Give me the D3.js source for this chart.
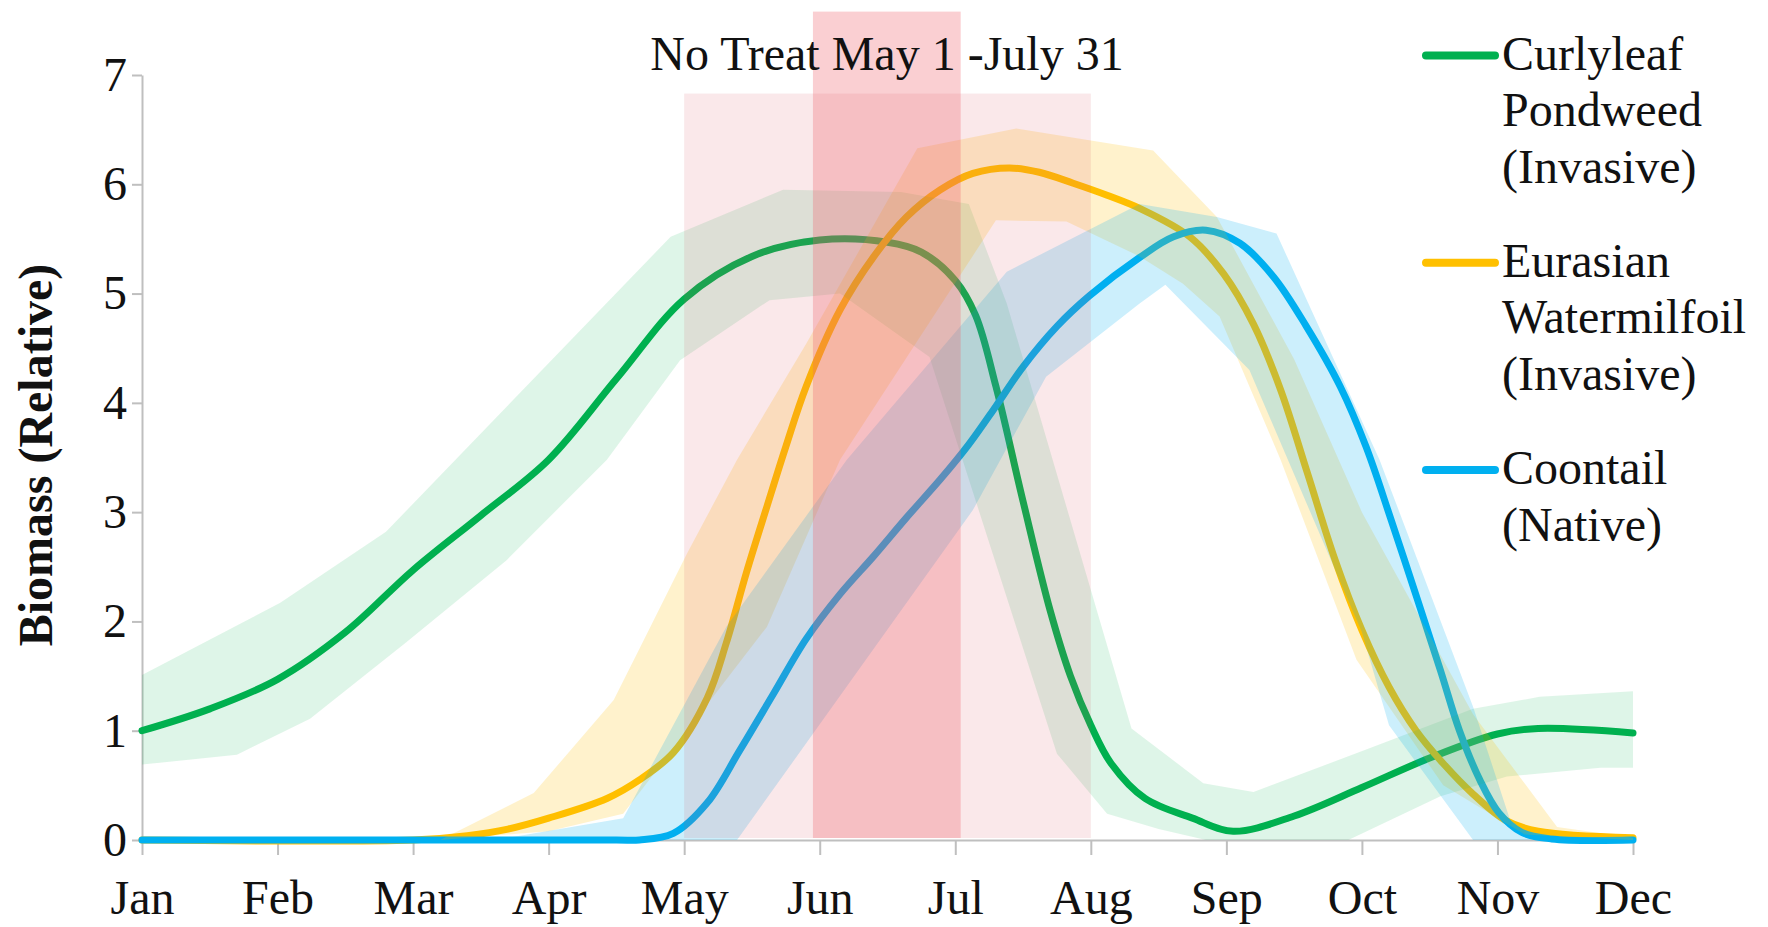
<!DOCTYPE html>
<html><head><meta charset="utf-8">
<script src="https://cdn.jsdelivr.net/npm/d3@7"></script>
<style>
html,body{margin:0;padding:0;background:#fff;}
svg{display:block;}
text{font-family:"Liberation Serif","Times New Roman",serif;}
</style></head><body>
<svg id="chart" width="1768" height="927"></svg>
<script>
// ---------- data (x = month index, 0 = Jan 1 ... 11 = Dec 1) ----------
const months = ["Jan","Feb","Mar","Apr","May","Jun","Jul","Aug","Sep","Oct","Nov","Dec"];
const yTicks = [0,1,2,3,4,5,6,7];

const curlyLine = [[0,1.0],[0.5,1.2],[1,1.47],[1.5,1.9],[2,2.47],[2.5,2.97],[3,3.48],[3.5,4.22],[4,4.95],[4.5,5.34],[5,5.49],[5.5,5.47],[5.75,5.38],[6,5.12],[6.15,4.8],[6.3,4.15],[6.5,3.1],[6.7,2.1],[6.85,1.5],[7,1.05],[7.15,0.7],[7.4,0.38],[7.75,0.2],[8.05,0.08],[8.5,0.22],[9,0.48],[9.5,0.75],[10,0.97],[10.3,1.02],[11,0.98]];
const milfoilLine = [[0,0],[2,0],[2.4,0.04],[2.7,0.1],[3,0.2],[3.43,0.38],[3.67,0.55],[3.92,0.8],[4.17,1.3],[4.31,1.8],[4.46,2.45],[4.61,3.05],[4.75,3.6],[4.9,4.15],[5.15,4.85],[5.4,5.34],[5.64,5.7],[5.89,5.95],[6.13,6.1],[6.4,6.15],[6.62,6.11],[6.87,6.01],[7.12,5.9],[7.36,5.78],[7.73,5.52],[7.98,5.18],[8.2,4.72],[8.4,4.12],[8.6,3.35],[8.8,2.57],[9.0,1.92],[9.2,1.4],[9.4,1.0],[9.6,0.7],[9.82,0.42],[10.06,0.18],[10.3,0.08],[11,0.02]];
const coontailLine = [[0,0],[3.5,0],[3.67,0],[3.92,0.06],[4.17,0.34],[4.41,0.82],[4.66,1.34],[4.9,1.84],[5.15,2.25],[5.4,2.6],[5.64,2.95],[5.89,3.3],[6.1,3.62],[6.3,3.97],[6.5,4.33],[6.75,4.7],[6.99,4.98],[7.36,5.33],[7.61,5.52],[7.85,5.58],[8.1,5.46],[8.35,5.15],[8.59,4.7],[8.84,4.15],[9.03,3.6],[9.21,2.95],[9.41,2.2],[9.58,1.55],[9.72,1.0],[9.87,0.55],[10.01,0.25],[10.18,0.07],[10.4,0.01],[11,0]];

const curlyBandUpper = [[0,1.51],[1.02,2.17],[1.8,2.82],[3.9,5.52],[4.73,5.95],[5.6,5.93],[6.1,5.82],[6.38,4.91],[7.3,1.02],[7.83,0.52],[8.2,0.44],[9.08,0.85],[9.82,1.2],[10.31,1.31],[11,1.36]];
const curlyBandLower = [[0,0.69],[0.7,0.78],[1.24,1.11],[1.95,1.81],[2.69,2.56],[3.43,3.48],[3.97,4.39],[4.63,4.94],[5.15,5.0],[5.81,4.42],[6.75,0.79],[7.12,0.24],[7.5,0.1],[7.85,0],[8.9,0],[9.58,0.4],[10.07,0.58],[10.76,0.66],[11,0.66]];
const milfoilBandUpper = [[0,0],[2.2,0],[2.89,0.43],[3.48,1.28],[3.67,1.75],[4.02,2.62],[4.39,3.48],[4.9,4.54],[5.72,6.33],[6.45,6.51],[7.46,6.31],[7.93,5.7],[8.5,4.4],[9.0,3.0],[9.82,1.15],[10.44,0.12],[11,0.02]];
const milfoilBandLower = [[0,0],[2.2,0],[3.0,0.08],[3.55,0.24],[4.61,1.95],[5.15,3.48],[6.3,5.67],[6.82,5.66],[7.36,5.34],[7.68,5.09],[7.95,4.79],[8.4,3.48],[8.96,1.65],[9.6,0.5],[10.2,0.05],[11,0]];
const coontailBandUpper = [[0,0],[2.6,0],[3.55,0.2],[4.31,1.95],[5.2,3.48],[6.38,5.2],[7.36,5.82],[7.93,5.7],[8.37,5.55],[9.13,3.48],[9.82,1.22],[10.11,0.12],[10.3,0],[11,0]];
const coontailBandLower = [[0,0],[4.39,0],[6.13,3.02],[6.67,4.24],[7.36,4.91],[7.55,5.08],[8.17,4.3],[9.0,1.9],[9.2,1.05],[9.82,0],[11,0]];

const seriesNames = [["Curlyleaf","Pondweed","(Invasive)"],["Eurasian","Watermilfoil","(Invasive)"],["Coontail","(Native)"]];
const seriesColors = ["#00b050","#ffc000","#00b0f0"];
const bandOpacity = [0.13,0.2,0.2];

const noTreatWindow = [4, 7, 6.83];      // start month, end month, top value
const peakWindow = [4.95, 6.04, 7.58];
const windowTitle = "No Treat May 1 -July 31";
const yTitle = "Biomass (Relative)";

// ---------- drawing ----------
const svg = d3.select("#chart");
svg.append("rect").attr("width",1768).attr("height",927).attr("fill","#fff");

const x = d3.scaleLinear().domain([0,11]).range([142,1633]);
const y = d3.scaleLinear().domain([0,7]).range([840,75]);

const axisColor = "#bfbfbf";
const gy = svg.append("g").attr("transform",`translate(${x(0)},0)`)
  .call(d3.axisLeft(y).tickValues(yTicks).tickSize(10).tickSizeOuter(0).tickPadding(5).tickFormat(d3.format("d")));
const gx = svg.append("g").attr("transform",`translate(0,${y(0)})`)
  .call(d3.axisBottom(x).tickValues(d3.range(months.length)).tickSize(15).tickSizeOuter(0).tickFormat(i=>months[i]));
[gx,gy].forEach(g=>{
  g.select(".domain").attr("stroke",axisColor).attr("stroke-width",2);
  g.selectAll(".tick line").attr("stroke",axisColor).attr("stroke-width",2);
  g.selectAll(".tick text").attr("font-size",48).attr("fill","#111")
    .attr("font-family","Liberation Serif, Times New Roman, serif");
});
gx.selectAll(".tick text").attr("y",74).attr("dy",0);

svg.append("text").attr("transform",`translate(52,455) rotate(-90)`)
  .attr("text-anchor","middle").attr("font-size",48).attr("font-weight","bold").attr("fill","#111")
  .text(yTitle);

const lineGen = d3.line().x(d=>x(d[0])).y(d=>y(d[1])).curve(d3.curveCatmullRom.alpha(0.5));
const polyGen = d3.line().x(d=>x(d[0])).y(d=>y(d[1])).curve(d3.curveLinearClosed);

const lines = [curlyLine, milfoilLine, coontailLine];
lines.forEach((ln,i)=>{
  svg.append("path").attr("d",lineGen(ln)).attr("fill","none")
    .attr("stroke",seriesColors[i]).attr("stroke-width",7).attr("stroke-linecap","round");
});

const bands = [[curlyBandUpper,curlyBandLower],[milfoilBandUpper,milfoilBandLower],[coontailBandUpper,coontailBandLower]];
bands.forEach((b,i)=>{
  const pts = b[0].concat(b[1].slice().reverse());
  svg.append("path").attr("d",polyGen(pts)).attr("fill",seriesColors[i]).attr("fill-opacity",bandOpacity[i]).attr("stroke","none");
});

// treatment windows
svg.append("rect").attr("x",x(noTreatWindow[0])).attr("width",x(noTreatWindow[1])-x(noTreatWindow[0]))
  .attr("y",y(noTreatWindow[2])).attr("height",y(0)-y(noTreatWindow[2])-2)
  .attr("fill","rgb(220,80,90)").attr("fill-opacity",0.13);
svg.append("rect").attr("x",x(peakWindow[0])).attr("width",x(peakWindow[1])-x(peakWindow[0]))
  .attr("y",y(peakWindow[2])).attr("height",y(0)-y(peakWindow[2])-2)
  .attr("fill","rgb(240,95,105)").attr("fill-opacity",0.3);

svg.append("text").attr("x",887).attr("y",70).attr("text-anchor","middle")
  .attr("font-size",48).attr("fill","#111").text(windowTitle);

// legend
const legend = svg.append("g");
seriesNames.forEach((names,i)=>{
  const ly = 55.6 + i*207.2;
  legend.append("line").attr("x1",1426).attr("x2",1495).attr("y1",ly).attr("y2",ly)
    .attr("stroke",seriesColors[i]).attr("stroke-width",8).attr("stroke-linecap","round");
  const t = legend.append("text").attr("x",1502).attr("y",ly+14).attr("font-size",48).attr("fill","#111");
  names.forEach((n,k)=>{
    t.append("tspan").attr("x",1502).attr("dy",k===0?0:56.5).text(n);
  });
});
</script>
</body></html>
